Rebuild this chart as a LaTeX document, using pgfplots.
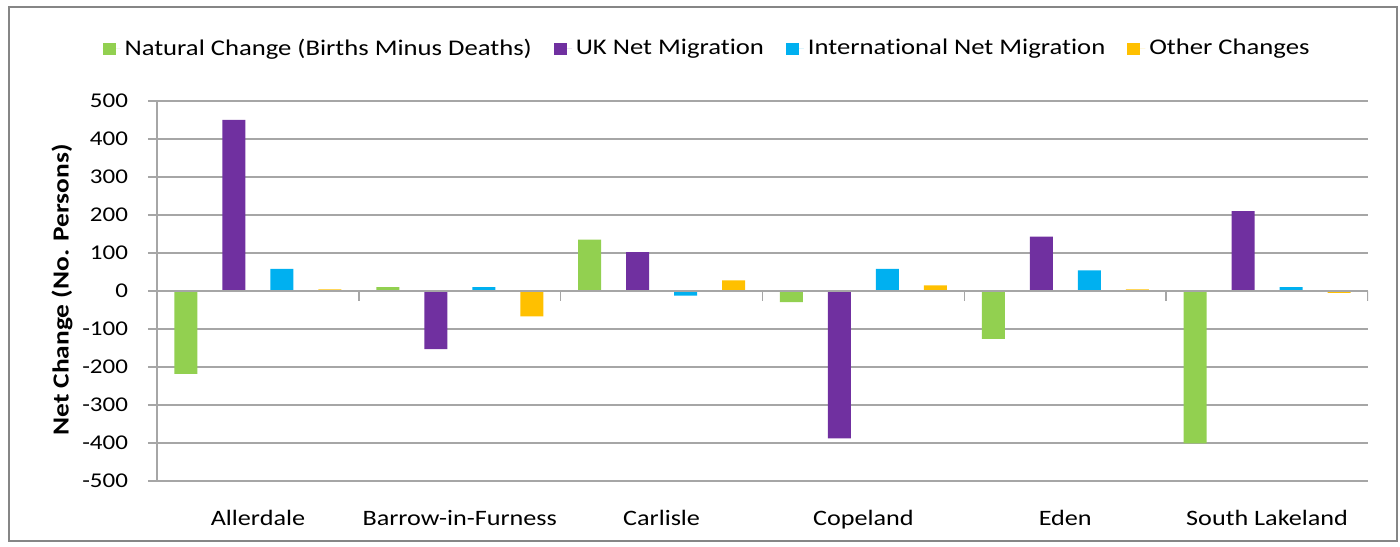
\documentclass[border=0pt]{standalone}
\usepackage{fontspec}
\setmainfont{Carlito}[FakeStretch=1.19, Ligatures=NoCommon]
\usepackage{pgfplots}
\pgfplotsset{compat=1.18}

\definecolor{natgreen}{HTML}{92D050}
\definecolor{ukpurple}{HTML}{7030A0}
\definecolor{intblue}{HTML}{00B0F0}
\definecolor{othorange}{HTML}{FFC000}
\definecolor{gridgray}{RGB}{166,166,166}
\definecolor{framegray}{RGB}{134,134,134}

\begin{document}
\begin{tikzpicture}
% outer chart frame (1px = 0.5pt, axis origin at bottom-left of plot area)
\useasboundingbox (-78.5pt,-32.5pt) rectangle (621.5pt,240.5pt);
\draw[framegray, line width=1pt] (-74pt,-30pt) rectangle (620pt,237pt);

\begin{axis}[
  at={(0,0)}, anchor=south west,
  scale only axis,
  width=605.5pt, height=190pt,
  ybar=12.5pt, bar width=11.5pt,
  xmin=-0.5, xmax=5.5,
  ymin=-500, ymax=500,
  ytick={-500,-400,...,500},
  xtick={0,...,5},
  xticklabels={Allerdale, Barrow-in-Furness, Carlisle, Copeland, Eden, South Lakeland},
  axis y line*=left,
  axis x line*=bottom,
  x axis line style={draw=none},
  y axis line style={gridgray, line width=0.8pt},
  major x tick style={draw=none},
  major y tick style={gridgray, line width=0.8pt},
  tick align=outside,
  major tick length=4.5pt,
  ymajorgrids,
  grid style={gridgray, line width=0.8pt},
  /pgf/number format/assume math mode=true,
  yticklabel style={font=\fontsize{10.5}{12}\selectfont, xshift=-6.5pt},
  xticklabel style={font=\fontsize{11}{13}\selectfont, anchor=base, yshift=-17.5pt},
  legend columns=4,
  legend style={draw=none, fill=none, at={(0.455,1.138)}, anchor=center,
    font=\fontsize{11.2}{13}\selectfont,
    /tikz/every even column/.append style={column sep=9pt},
    inner sep=0pt},
  legend image code/.code={\fill[#1] (0pt,-3pt) rectangle (6.5pt,3pt);
    \path (0pt,0pt) -- (9pt,0pt);},
]
\addplot[fill=natgreen, draw=none] coordinates
  {(0,-218) (1,10) (2,135) (3,-29) (4,-126) (5,-401)};
\addplot[fill=ukpurple, draw=none] coordinates
  {(0,450) (1,-153) (2,102) (3,-388) (4,143) (5,210)};
\addplot[fill=intblue, draw=none] coordinates
  {(0,58) (1,10) (2,-12) (3,58) (4,54) (5,10)};
\addplot[fill=othorange, draw=none] coordinates
  {(0,4) (1,-67) (2,28) (3,15) (4,4) (5,-5)};
\legend{Natural Change (Births Minus Deaths), UK Net Migration,
  International Net Migration, Other Changes}

% category axis at zero with ticks between groups
\draw[gridgray, line width=0.8pt] (axis cs:-0.5,0) -- (axis cs:5.5,0);
\draw[gridgray, line width=0.8pt] (axis cs:0.5,0) -- ([yshift=-5pt]axis cs:0.5,0);
\draw[gridgray, line width=0.8pt] (axis cs:1.5,0) -- ([yshift=-5pt]axis cs:1.5,0);
\draw[gridgray, line width=0.8pt] (axis cs:2.5,0) -- ([yshift=-5pt]axis cs:2.5,0);
\draw[gridgray, line width=0.8pt] (axis cs:3.5,0) -- ([yshift=-5pt]axis cs:3.5,0);
\draw[gridgray, line width=0.8pt] (axis cs:4.5,0) -- ([yshift=-5pt]axis cs:4.5,0);
\draw[gridgray, line width=0.8pt] (axis cs:5.5,0) -- ([yshift=-5pt]axis cs:5.5,0);
\end{axis}

\node[rotate=90, font=\bfseries\fontsize{11.5}{13}\selectfont] at (-47.5pt,95.5pt)
  {Net Change (No. Persons)};
\end{tikzpicture}
\end{document}
